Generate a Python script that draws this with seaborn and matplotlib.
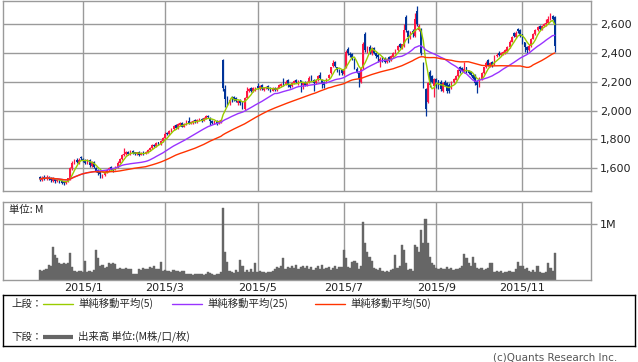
import numpy as np
import pandas as pd
import matplotlib
matplotlib.use("Agg")
import matplotlib.pyplot as plt
import seaborn as sns

# ---------------- data ----------------
start_date = "2014-12-02"
holidays = ["2014-12-23", "2014-12-31", "2015-01-01", "2015-01-02", "2015-01-12",
            "2015-02-11", "2015-04-29", "2015-05-04", "2015-05-05", "2015-05-06",
            "2015-07-20", "2015-09-21", "2015-09-22", "2015-09-23", "2015-10-12",
            "2015-11-03", "2015-11-23"]

opens = [
    1540, 1520, 1540, 1525, 1540, 1530, 1515, 1530, 1510, 1520,
    1515, 1505, 1495, 1510, 1525, 1600, 1635, 1655, 1640, 1680,
    1665, 1655, 1635, 1655, 1615, 1645, 1605, 1585, 1575, 1540,
    1555, 1570, 1590, 1610, 1600, 1590, 1610, 1640, 1665, 1690,
    1700, 1715, 1700, 1720, 1710, 1700, 1715, 1695, 1715, 1700,
    1710, 1725, 1740, 1765, 1755, 1780, 1770, 1790, 1810, 1845,
    1835, 1855, 1870, 1900, 1880, 1900, 1915, 1890, 1905, 1930,
    1910, 1915, 1935, 1920, 1930, 1945, 1930, 1945, 1965, 1950,
    1930, 1910, 1930, 1915, 1920, 2350, 2150, 2090, 2050, 2095,
    2095, 2085, 2050, 2070, 2060, 2010, 2090, 2140, 2155, 2135,
    2150, 2170, 2150, 2175, 2145, 2155, 2170, 2160, 2140, 2160,
    2145, 2160, 2170, 2200, 2185, 2215, 2180, 2170, 2190, 2215,
    2185, 2210, 2180, 2200, 2180, 2200, 2235, 2215, 2190, 2210,
    2250, 2215, 2200, 2195, 2225, 2260, 2310, 2340, 2300, 2285,
    2280, 2255, 2300, 2430, 2395, 2395, 2360, 2290, 2265, 2200,
    2300, 2530, 2410, 2445, 2400, 2435, 2400, 2390, 2345, 2375,
    2365, 2335, 2370, 2350, 2375, 2400, 2420, 2465, 2430, 2450,
    2650, 2550, 2500, 2555, 2520, 2690, 2560, 2560, 2330, 2150,
    2060, 2270, 2240, 2170, 2220, 2210, 2200, 2140, 2200, 2190,
    2180, 2160, 2200, 2215, 2240, 2300, 2295, 2270, 2300, 2280,
    2270, 2245, 2250, 2200, 2180, 2220, 2260, 2300, 2350, 2310,
    2335, 2320, 2380, 2400, 2385, 2395, 2400, 2415, 2440, 2480,
    2540, 2510, 2565, 2560, 2530, 2475, 2440, 2420, 2450, 2500,
    2530, 2560, 2590, 2565, 2585, 2600, 2610, 2640, 2660, 2650,
]
highs = [
    1548, 1545, 1550, 1552, 1545, 1538, 1540, 1535, 1528, 1525,
    1520, 1510, 1515, 1535, 1610, 1650, 1665, 1670, 1672, 1688,
    1672, 1662, 1665, 1662, 1652, 1650, 1612, 1592, 1580, 1562,
    1582, 1598, 1612, 1618, 1605, 1615, 1648, 1672, 1698, 1738,
    1718, 1722, 1725, 1728, 1715, 1716, 1722, 1712, 1720, 1722,
    1732, 1748, 1768, 1772, 1782, 1785, 1796, 1818, 1850, 1852,
    1868, 1880, 1902, 1908, 1912, 1922, 1920, 1918, 1932, 1955,
    1926, 1936, 1940, 1940, 1948, 1950, 1958, 1970, 1972, 1955,
    1936, 1930, 1935, 1935, 1945, 2360, 2175, 2100, 2085, 2105,
    2105, 2095, 2075, 2078, 2065, 2095, 2165, 2160, 2162, 2162,
    2168, 2192, 2178, 2182, 2166, 2172, 2178, 2165, 2162, 2165,
    2168, 2182, 2192, 2228, 2210, 2222, 2188, 2196, 2212, 2220,
    2212, 2215, 2202, 2208, 2206, 2238, 2245, 2220, 2222, 2250,
    2270, 2222, 2205, 2230, 2255, 2305, 2352, 2348, 2305, 2290,
    2290, 2298, 2420, 2440, 2405, 2400, 2365, 2300, 2272, 2300,
    2480, 2545, 2452, 2455, 2440, 2442, 2410, 2398, 2375, 2380,
    2372, 2368, 2378, 2390, 2408, 2428, 2458, 2470, 2465, 2600,
    2665, 2560, 2550, 2565, 2680, 2727, 2600, 2575, 2340, 2160,
    2200, 2285, 2250, 2230, 2225, 2215, 2210, 2198, 2210, 2198,
    2190, 2205, 2225, 2250, 2290, 2308, 2300, 2340, 2305, 2285,
    2278, 2255, 2255, 2210, 2235, 2268, 2305, 2345, 2362, 2340,
    2345, 2388, 2398, 2412, 2408, 2415, 2428, 2450, 2490, 2520,
    2548, 2550, 2572, 2568, 2535, 2480, 2448, 2460, 2508, 2538,
    2568, 2588, 2595, 2598, 2610, 2640, 2660, 2680, 2665, 2660,
]
lows = [
    1515, 1512, 1522, 1518, 1520, 1505, 1505, 1500, 1502, 1495,
    1492, 1485, 1488, 1505, 1520, 1590, 1628, 1635, 1632, 1655,
    1642, 1630, 1628, 1612, 1608, 1600, 1572, 1555, 1535, 1532,
    1548, 1565, 1582, 1588, 1572, 1585, 1605, 1635, 1660, 1682,
    1692, 1690, 1695, 1698, 1690, 1694, 1685, 1690, 1695, 1696,
    1705, 1720, 1735, 1748, 1750, 1762, 1765, 1785, 1805, 1828,
    1830, 1850, 1865, 1872, 1875, 1895, 1885, 1884, 1900, 1908,
    1905, 1910, 1918, 1915, 1925, 1922, 1925, 1940, 1948, 1900,
    1908, 1905, 1902, 1910, 1912, 2140, 2025, 2040, 2040, 2060,
    2070, 2060, 2042, 2040, 2010, 2005, 2085, 2130, 2128, 2128,
    2140, 2148, 2145, 2142, 2138, 2150, 2142, 2130, 2135, 2138,
    2140, 2155, 2165, 2170, 2180, 2168, 2155, 2162, 2185, 2192,
    2178, 2130, 2150, 2172, 2170, 2195, 2205, 2135, 2185, 2205,
    2218, 2160, 2158, 2190, 2220, 2255, 2300, 2305, 2272, 2250,
    2250, 2250, 2295, 2390, 2370, 2350, 2290, 2260, 2165, 2190,
    2290, 2410, 2400, 2395, 2390, 2392, 2365, 2340, 2300, 2340,
    2330, 2328, 2338, 2345, 2368, 2395, 2415, 2435, 2425, 2445,
    2545, 2470, 2495, 2512, 2515, 2590, 2550, 2390, 2160, 1965,
    2050, 2165, 2190, 2095, 2160, 2150, 2140, 2130, 2170, 2125,
    2122, 2150, 2190, 2210, 2235, 2265, 2275, 2265, 2260, 2255,
    2240, 2222, 2180, 2120, 2165, 2215, 2255, 2295, 2310, 2305,
    2305, 2315, 2375, 2378, 2380, 2390, 2395, 2410, 2435, 2475,
    2512, 2505, 2540, 2512, 2462, 2405, 2400, 2415, 2445, 2495,
    2525, 2555, 2560, 2560, 2578, 2590, 2605, 2630, 2632, 2405,
]
closes = [
    1525, 1535, 1530, 1540, 1528, 1520, 1530, 1515, 1520, 1510,
    1500, 1495, 1510, 1530, 1600, 1640, 1650, 1645, 1660, 1670,
    1650, 1640, 1655, 1620, 1645, 1610, 1580, 1570, 1560, 1555,
    1575, 1590, 1600, 1595, 1590, 1610, 1640, 1665, 1690, 1700,
    1710, 1700, 1715, 1705, 1700, 1710, 1695, 1705, 1700, 1715,
    1725, 1740, 1760, 1755, 1775, 1770, 1790, 1810, 1840, 1835,
    1860, 1870, 1895, 1880, 1905, 1915, 1890, 1910, 1925, 1915,
    1920, 1930, 1925, 1935, 1940, 1930, 1950, 1960, 1955, 1925,
    1915, 1925, 1910, 1930, 1935, 2160, 2080, 2060, 2075, 2090,
    2080, 2070, 2065, 2050, 2040, 2090, 2140, 2150, 2135, 2155,
    2160, 2155, 2170, 2150, 2160, 2165, 2150, 2140, 2155, 2145,
    2160, 2175, 2185, 2190, 2200, 2175, 2165, 2190, 2205, 2200,
    2200, 2190, 2195, 2180, 2200, 2230, 2210, 2195, 2215, 2240,
    2225, 2190, 2175, 2220, 2250, 2300, 2330, 2310, 2280, 2260,
    2260, 2290, 2410, 2400, 2390, 2360, 2300, 2270, 2230, 2290,
    2460, 2420, 2440, 2410, 2430, 2400, 2380, 2370, 2360, 2350,
    2340, 2360, 2345, 2380, 2400, 2420, 2450, 2440, 2460, 2560,
    2560, 2510, 2540, 2530, 2640, 2600, 2590, 2400, 2180, 2010,
    2190, 2180, 2200, 2220, 2170, 2160, 2150, 2190, 2180, 2140,
    2140, 2200, 2220, 2240, 2280, 2275, 2285, 2290, 2270, 2265,
    2250, 2230, 2190, 2180, 2230, 2260, 2300, 2330, 2320, 2330,
    2310, 2380, 2390, 2385, 2400, 2405, 2420, 2440, 2480, 2510,
    2520, 2540, 2550, 2520, 2470, 2440, 2420, 2450, 2500, 2530,
    2560, 2580, 2570, 2590, 2600, 2610, 2640, 2650, 2640, 2450,
]
volumes_m = [
    0.18, 0.17, 0.18, 0.20, 0.27, 0.26, 0.59, 0.45, 0.40, 0.30,
    0.28, 0.30, 0.29, 0.31, 0.48, 0.24, 0.16, 0.15, 0.17, 0.16,
    0.14, 0.34, 0.15, 0.16, 0.14, 0.18, 0.54, 0.40, 0.25, 0.27,
    0.22, 0.24, 0.30, 0.29, 0.31, 0.28, 0.20, 0.21, 0.19, 0.20,
    0.22, 0.19, 0.20, 0.10, 0.11, 0.10, 0.20, 0.18, 0.22, 0.19,
    0.20, 0.23, 0.21, 0.25, 0.20, 0.20, 0.33, 0.17, 0.18, 0.16,
    0.17, 0.15, 0.18, 0.17, 0.16, 0.15, 0.17, 0.16, 0.10, 0.10,
    0.11, 0.09, 0.10, 0.10, 0.11, 0.10, 0.09, 0.10, 0.15, 0.12,
    0.10, 0.09, 0.10, 0.11, 0.15, 1.30, 0.50, 0.33, 0.17, 0.15,
    0.12, 0.18, 0.14, 0.36, 0.25, 0.15, 0.18, 0.14, 0.20, 0.14,
    0.30, 0.15, 0.16, 0.14, 0.15, 0.13, 0.14, 0.15, 0.16, 0.20,
    0.24, 0.22, 0.26, 0.39, 0.20, 0.24, 0.22, 0.25, 0.21, 0.27,
    0.20, 0.24, 0.26, 0.22, 0.25, 0.20, 0.23, 0.18, 0.22, 0.25,
    0.20, 0.27, 0.19, 0.22, 0.24, 0.18, 0.21, 0.26, 0.20, 0.23,
    0.23, 0.54, 0.40, 0.24, 0.22, 0.33, 0.35, 0.30, 0.20, 0.25,
    1.05, 0.66, 0.50, 0.42, 0.35, 0.22, 0.20, 0.18, 0.21, 0.16,
    0.15, 0.16, 0.15, 0.18, 0.20, 0.45, 0.22, 0.25, 0.63, 0.54,
    0.30, 0.18, 0.20, 0.17, 0.63, 0.60, 0.50, 0.90, 0.66, 1.10,
    0.66, 0.42, 0.30, 0.27, 0.22, 0.20, 0.21, 0.19, 0.20, 0.24,
    0.20, 0.22, 0.18, 0.20, 0.19, 0.21, 0.25, 0.46, 0.39, 0.30,
    0.25, 0.42, 0.30, 0.22, 0.20, 0.21, 0.18, 0.20, 0.22, 0.30,
    0.30, 0.15, 0.17, 0.14, 0.16, 0.13, 0.15, 0.14, 0.16, 0.15,
    0.15, 0.20, 0.33, 0.25, 0.26, 0.20, 0.22, 0.17, 0.15, 0.18,
    0.14, 0.26, 0.14, 0.12, 0.13, 0.15, 0.30, 0.22, 0.16, 0.48,
]

price_ticks = [1600, 1800, 2000, 2200, 2400, 2600]
volume_ticks = [1.0]
volume_tick_labels = ["1M"]
tick_months = [1, 3, 5, 7, 9, 11]
ma_windows = [5, 25, 50]
ma_colors = ["#99cc00", "#9933ff", "#ff3300"]
ma_labels = ["単純移動平均(5)", "単純移動平均(25)", "単純移動平均(50)"]
upper_label = "上段："
lower_label = "下段："
volume_label = "出来高 単位:(M株/口/枚)"
unit_label = "単位: M"
credit = "(c)Quants Research Inc."

# ---------------- build frame ----------------
dates = pd.bdate_range(start=start_date, periods=len(closes), freq="C", holidays=holidays)
df = pd.DataFrame({"date": dates, "open": opens, "high": highs, "low": lows,
                   "close": closes, "volume": volumes_m})
df["idx"] = np.arange(len(df))
for w in ma_windows:
    df[f"ma{w}"] = df["close"].rolling(w, min_periods=1).mean()

tick_idx, tick_lab = [], []
prev_month = None
for i, d in zip(df["idx"], df["date"]):
    if prev_month is not None and d.month != prev_month and d.month in tick_months:
        tick_idx.append(i)
        tick_lab.append(f"{d.year}/{d.month}")
    prev_month = d.month

# ---------------- style ----------------
sns.set_style("white")
plt.rcParams["font.family"] = ["DejaVu Sans", "Noto Sans CJK JP"]
jp = ["Noto Sans CJK JP", "DejaVu Sans"]
GRID = "#9a9a9a"
UP = "#ff1744"
DOWN = "#003399"
VOL = "#666666"
FS = 7.5

W, H = 638, 362
fig = plt.figure(figsize=(W / 100, H / 100), dpi=100)


def px_axes(x0, y0, x1, y1):
    return fig.add_axes([x0 / W, 1 - y1 / H, (x1 - x0) / W, (y1 - y0) / H])


ax_p = px_axes(3, 1, 590.7, 190.7)
ax_v = px_axes(3, 201.7, 590.7, 280)
xlim = (-17.2, 255.7)

# ---- price panel ----
up = df[df["close"] >= df["open"]]
dn = df[df["close"] < df["open"]]
for sub, col in ((up, UP), (dn, DOWN)):
    ax_p.vlines(sub["idx"], sub["low"], sub["high"], color=col, lw=0.9, zorder=3)
    body = (sub["close"] - sub["open"]).abs().clip(lower=2)
    ax_p.bar(sub["idx"], body, bottom=np.minimum(sub["open"], sub["close"]),
             width=0.8, color=col, linewidth=0, zorder=3)

for w, col in zip(ma_windows, ma_colors):
    sns.lineplot(data=df, x="idx", y=f"ma{w}", color=col, lw=1.0, ax=ax_p,
                 legend=False, zorder=4)

ax_p.set_xlim(*xlim)
ax_p.set_ylim(1444.4, 2761.8)
ax_p.set_yticks(price_ticks)
ax_p.set_yticklabels([f"{t:,}" for t in price_ticks], fontsize=FS + 0.5)
ax_p.set_xticks(tick_idx)
ax_p.set_xticklabels([])

# ---- volume panel ----
sns.barplot(data=df, x="idx", y="volume", native_scale=True, width=1.0,
            color=VOL, saturation=1, errorbar=None, ax=ax_v,
            edgecolor=VOL, linewidth=0.3)
ax_v.set_xlim(*xlim)
ax_v.set_ylim(0, 1.406)
ax_v.set_yticks(volume_ticks)
ax_v.set_yticklabels(volume_tick_labels, fontsize=FS + 0.5)
ax_v.set_xticks(tick_idx)
ax_v.set_xticklabels(tick_lab, fontsize=FS + 0.5)
ax_v.text(0.0095, 0.894, unit_label, transform=ax_v.transAxes, fontsize=FS,
          family=jp, va="center", ha="left")

for ax in (ax_p, ax_v):
    ax.set_xlabel("")
    ax.set_ylabel("")
    ax.yaxis.tick_right()
    ax.grid(True, color=GRID, lw=1.0)
    ax.set_axisbelow(True)
    for s in ax.spines.values():
        s.set_color(GRID)
        s.set_linewidth(1.0)
        s.set_visible(True)
    ax.tick_params(axis="y", which="both", right=True, left=False, length=4.3,
                   width=1.0, color=GRID, pad=2.5, labelcolor="#222222")
    ax.tick_params(axis="x", which="both", length=0, pad=2.5, labelcolor="#222222")

# ---- legend box ----
ax_l = px_axes(3.3, 295, 635.3, 346)
ax_l.set_xlim(3.3, 635.3)
ax_l.set_ylim(346, 295)
ax_l.set_xticks([])
ax_l.set_yticks([])
for s in ax_l.spines.values():
    s.set_color("black")
    s.set_linewidth(1.0)
    s.set_visible(True)

row1, row2 = 303.5, 336.5
ax_l.text(11.5, row1, upper_label, fontsize=FS, family=jp, va="center")
seg_x = [(43, 73), (172, 202), (315, 345)]
txt_x = [78, 207, 350]
for (a, b), tx, col, lab in zip(seg_x, txt_x, ma_colors, ma_labels):
    ax_l.plot([a, b], [row1, row1], color=col, lw=1.0)
    ax_l.text(tx, row1, lab, fontsize=FS, family=jp, va="center")
ax_l.text(11.5, row2, lower_label, fontsize=FS, family=jp, va="center")
ax_l.plot([43, 73], [row2, row2], color=VOL, lw=3.0, solid_capstyle="butt")
ax_l.text(78, row2, volume_label, fontsize=FS, family=jp, va="center")

fig.text(617 / W, 1 - 357.5 / H, credit, fontsize=FS, color="#555555",
         ha="right", va="center")

fig.savefig("out.png", dpi=100)
